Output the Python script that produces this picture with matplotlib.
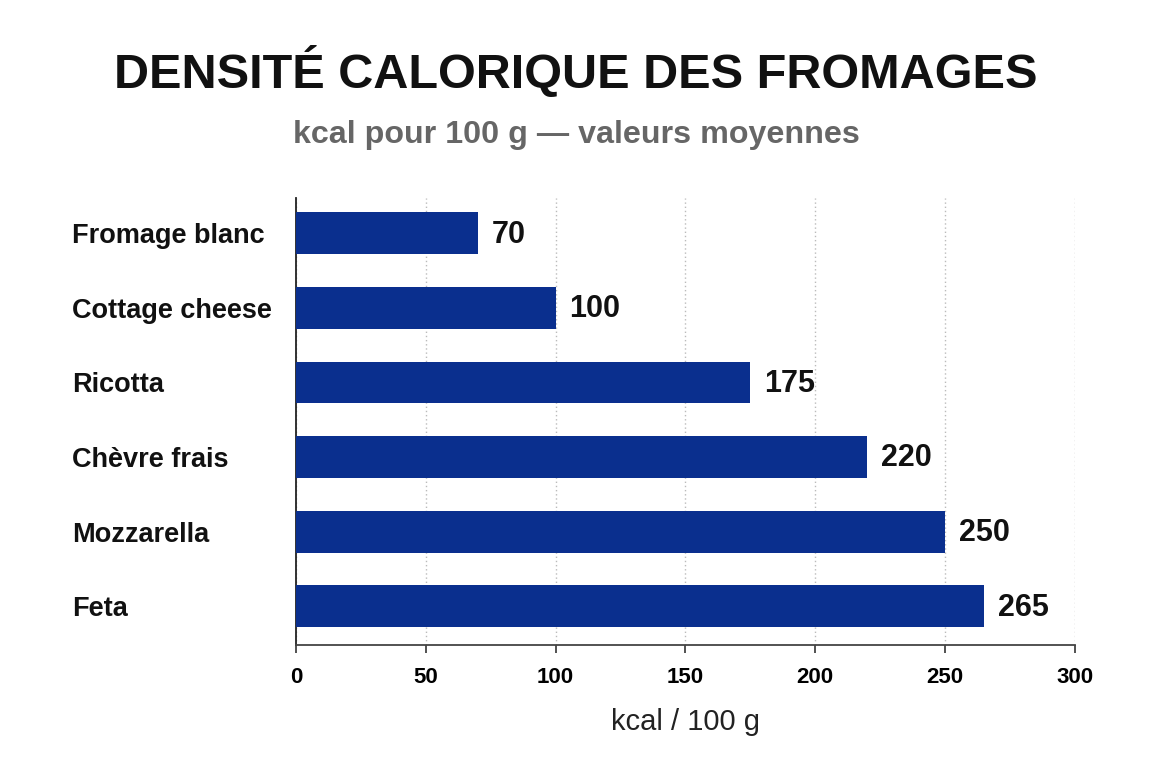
import matplotlib.pyplot as plt

cheeses = ['Fromage blanc', 'Cottage cheese', 'Ricotta', 'Chèvre frais', 'Mozzarella', 'Feta']
kcal = [70, 100, 175, 220, 250, 265]
xticks = [0, 50, 100, 150, 200, 250, 300]

plt.rcParams['font.family'] = ['Liberation Sans', 'DejaVu Sans']

BLUE = '#0a2f8e'

fig = plt.figure(figsize=(11.52, 7.68), dpi=100)
ax = fig.add_axes([0.257, 0.160, 0.676, 0.582])

ypos = list(range(len(cheeses)))
ax.barh(ypos, kcal, height=0.56, color=BLUE, zorder=3)
for y, v in zip(ypos, kcal):
    ax.annotate(str(v), (v, y), xytext=(10, -1), textcoords='offset points',
                ha='left', va='center', fontsize=22, fontweight='bold', color='#111111')

ax.set_xlim(0, 300)
ax.set_ylim(5.52, -0.47)
ax.set_xticks(xticks)
ax.set_xticklabels([str(t) for t in xticks], fontsize=16, fontweight='bold')
ax.set_yticks(ypos)
ax.set_yticklabels(cheeses, fontsize=19.5, fontweight='bold', ha='left', color='#111111')
ax.tick_params(axis='y', length=0, pad=161)
ax.tick_params(axis='x', length=6, width=1.2, color='#333333', pad=10)

ax.grid(axis='x', linestyle=(0, (1, 2)), color='#bbbbbb', linewidth=1, zorder=0)
for s in ['top', 'right']:
    ax.spines[s].set_visible(False)
ax.spines['left'].set_color('#222222')
ax.spines['left'].set_linewidth(1.3)
ax.spines['bottom'].set_color('#444444')
ax.spines['bottom'].set_linewidth(1.3)

ax.set_xlabel('kcal / 100 g', fontsize=21, labelpad=14, color='#222222')

fig.text(0.5, 0.906, 'DENSITÉ CALORIQUE DES FROMAGES', ha='center', va='center',
         fontsize=35, fontweight='bold', color='#111111')
fig.text(0.5, 0.824, 'kcal pour 100 g — valeurs moyennes', ha='center', va='center',
         fontsize=23.2, fontweight='bold', color='#666666')

fig.savefig('out.png', dpi=100)
